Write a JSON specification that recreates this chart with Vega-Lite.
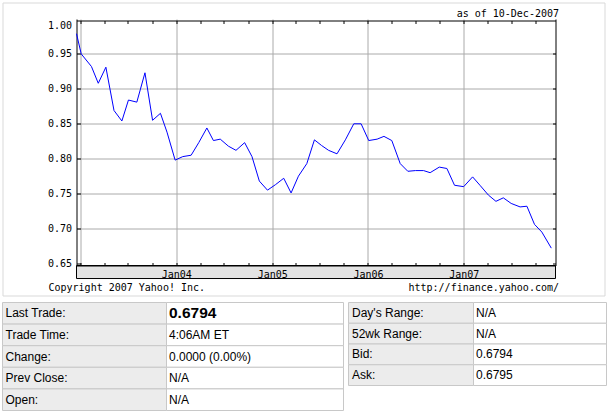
{
  "$schema": "https://vega.github.io/schema/vega-lite/v6.json",
  "background": "white",
  "padding": {"left": 1.5, "top": 1.5, "right": 2, "bottom": 2},
  "bounds": "flush",
  "spacing": 7,
  "datasets": {
    "series": [
      {"date": "2002-12-17", "value": 0.979},
      {"date": "2003-01-04", "value": 0.950},
      {"date": "2003-02-12", "value": 0.932},
      {"date": "2003-03-10", "value": 0.908},
      {"date": "2003-04-08", "value": 0.931},
      {"date": "2003-05-09", "value": 0.869},
      {"date": "2003-06-08", "value": 0.854},
      {"date": "2003-07-03", "value": 0.884},
      {"date": "2003-08-04", "value": 0.881},
      {"date": "2003-09-04", "value": 0.923},
      {"date": "2003-10-03", "value": 0.855},
      {"date": "2003-11-02", "value": 0.865},
      {"date": "2003-11-27", "value": 0.838},
      {"date": "2003-12-28", "value": 0.798},
      {"date": "2004-01-26", "value": 0.803},
      {"date": "2004-02-27", "value": 0.805},
      {"date": "2004-03-27", "value": 0.823},
      {"date": "2004-04-27", "value": 0.844},
      {"date": "2004-05-22", "value": 0.826},
      {"date": "2004-06-17", "value": 0.828},
      {"date": "2004-07-18", "value": 0.818},
      {"date": "2004-08-16", "value": 0.812},
      {"date": "2004-09-18", "value": 0.823},
      {"date": "2004-10-16", "value": 0.803},
      {"date": "2004-11-13", "value": 0.768},
      {"date": "2004-12-14", "value": 0.755},
      {"date": "2005-01-14", "value": 0.763},
      {"date": "2005-02-14", "value": 0.772},
      {"date": "2005-03-14", "value": 0.751},
      {"date": "2005-04-11", "value": 0.775},
      {"date": "2005-05-13", "value": 0.793},
      {"date": "2005-06-11", "value": 0.827},
      {"date": "2005-07-08", "value": 0.819},
      {"date": "2005-08-04", "value": 0.812},
      {"date": "2005-09-05", "value": 0.807},
      {"date": "2005-10-07", "value": 0.827},
      {"date": "2005-11-08", "value": 0.850},
      {"date": "2005-12-06", "value": 0.850},
      {"date": "2006-01-04", "value": 0.826},
      {"date": "2006-02-05", "value": 0.828},
      {"date": "2006-03-03", "value": 0.832},
      {"date": "2006-04-02", "value": 0.826},
      {"date": "2006-05-04", "value": 0.793},
      {"date": "2006-06-02", "value": 0.782},
      {"date": "2006-07-01", "value": 0.783},
      {"date": "2006-08-01", "value": 0.783},
      {"date": "2006-08-26", "value": 0.780},
      {"date": "2006-09-30", "value": 0.788},
      {"date": "2006-10-29", "value": 0.786},
      {"date": "2006-11-27", "value": 0.762},
      {"date": "2007-01-01", "value": 0.760},
      {"date": "2007-02-04", "value": 0.774},
      {"date": "2007-03-04", "value": 0.762},
      {"date": "2007-04-05", "value": 0.748},
      {"date": "2007-05-04", "value": 0.739},
      {"date": "2007-06-01", "value": 0.744},
      {"date": "2007-07-01", "value": 0.736},
      {"date": "2007-08-04", "value": 0.731},
      {"date": "2007-08-30", "value": 0.732},
      {"date": "2007-09-28", "value": 0.706},
      {"date": "2007-10-26", "value": 0.695},
      {"date": "2007-12-01", "value": 0.672}
    ],
    "left": [
      {"row": 1, "label": "Last Trade:", "value": "0.6794"},
      {"row": 2, "label": "Trade Time:", "value": "4:06AM ET"},
      {"row": 3, "label": "Change:", "value": "0.0000 (0.00%)"},
      {"row": 4, "label": "Prev Close:", "value": "N/A"},
      {"row": 5, "label": "Open:", "value": "N/A"}
    ],
    "right": [
      {"row": 1, "label": "Day's Range:", "value": "N/A"},
      {"row": 2, "label": "52wk Range:", "value": "N/A"},
      {"row": 3, "label": "Bid:", "value": "0.6794"},
      {"row": 4, "label": "Ask:", "value": "0.6795"}
    ]
  },
  "vconcat": [
    {
      "width": 602,
      "height": 293,
      "view": {"stroke": "#d9d9d9", "strokeWidth": 1},
      "resolve": {"axis": {"x": "independent", "y": "independent"}},
      "layer": [
        {
          "data": {"values": [{}]},
          "mark": {"type": "rect", "fill": "#e3e3e3", "stroke": "#000000", "strokeWidth": 1},
          "encoding": {
            "x": {
              "datum": {"year": 2002, "month": 12, "date": 17, "utc": true},
              "type": "temporal",
              "scale": {"type": "utc", "domain": [{"year": 2002, "month": 12, "date": 17, "utc": true}, {"year": 2007, "month": 12, "date": 17, "utc": true}], "range": [74, 553]},
              "axis": {
                "orient": "top", "offset": -18,
                "values": [
                  {"year": 2003, "month": 1, "date": 1, "utc": true}, {"year": 2003, "month": 4, "date": 1, "utc": true}, {"year": 2003, "month": 7, "date": 1, "utc": true}, {"year": 2003, "month": 10, "date": 1, "utc": true},
                  {"year": 2004, "month": 1, "date": 1, "utc": true}, {"year": 2004, "month": 4, "date": 1, "utc": true}, {"year": 2004, "month": 7, "date": 1, "utc": true}, {"year": 2004, "month": 10, "date": 1, "utc": true},
                  {"year": 2005, "month": 1, "date": 1, "utc": true}, {"year": 2005, "month": 4, "date": 1, "utc": true}, {"year": 2005, "month": 7, "date": 1, "utc": true}, {"year": 2005, "month": 10, "date": 1, "utc": true},
                  {"year": 2006, "month": 1, "date": 1, "utc": true}, {"year": 2006, "month": 4, "date": 1, "utc": true}, {"year": 2006, "month": 7, "date": 1, "utc": true}, {"year": 2006, "month": 10, "date": 1, "utc": true},
                  {"year": 2007, "month": 1, "date": 1, "utc": true}, {"year": 2007, "month": 4, "date": 1, "utc": true}, {"year": 2007, "month": 7, "date": 1, "utc": true}, {"year": 2007, "month": 10, "date": 1, "utc": true}
                ],
                "labels": false,
                "ticks": true, "tickSize": -3, "tickColor": "#000000", "tickWidth": 1,
                "domain": true, "domainColor": "#000000", "domainWidth": 1,
                "grid": true, "gridColor": "#aaaaaa", "gridWidth": 1,
                "gridOpacity": {"condition": {"test": "utcmonth(datum.value) === 0", "value": 1}, "value": 0},
                "title": "as of 10-Dec-2007",
                "titleX": 556, "titleY": -4, "titleAlign": "right", "titleBaseline": "alphabetic", "titleAngle": 0,
                "titleFont": "DejaVu Sans Mono", "titleFontSize": 10, "titleFontWeight": "normal", "titleColor": "#000000"
              }
            },
            "x2": {"datum": {"year": 2007, "month": 12, "date": 17, "utc": true}},
            "y": {
              "datum": 0.6285,
              "type": "quantitative",
              "scale": {"domain": [0.64714, 1.0], "range": [263, 16.5], "zero": false, "nice": false},
              "axis": {
                "orient": "right", "offset": -49,
                "values": [0.65, 0.7, 0.75, 0.8, 0.85, 0.9, 0.95],
                "labels": false,
                "ticks": true, "tickSize": -3, "tickColor": "#000000", "tickWidth": 1,
                "domain": true, "domainColor": "#000000", "domainWidth": 1,
                "grid": false,
                "title": "http://finance.yahoo.com/",
                "titleX": 3, "titleY": 288, "titleAlign": "right", "titleBaseline": "alphabetic", "titleAngle": 0,
                "titleFont": "DejaVu Sans Mono", "titleFontSize": 10, "titleFontWeight": "normal", "titleColor": "#000000"
              }
            },
            "y2": {"datum": 0.64714}
          }
        },
        {
          "data": {"name": "series"},
          "mark": {"type": "line", "color": "#0000ff", "strokeWidth": 1},
          "encoding": {
            "x": {
              "field": "date",
              "type": "temporal",
              "scale": {"type": "utc", "domain": [{"year": 2002, "month": 12, "date": 17, "utc": true}, {"year": 2007, "month": 12, "date": 17, "utc": true}], "range": [74, 553]},
              "axis": {
                "orient": "bottom", "offset": -30, "zindex": 1,
                "values": [
                  {"year": 2003, "month": 1, "date": 1, "utc": true}, {"year": 2003, "month": 4, "date": 1, "utc": true}, {"year": 2003, "month": 7, "date": 1, "utc": true}, {"year": 2003, "month": 10, "date": 1, "utc": true},
                  {"year": 2004, "month": 1, "date": 1, "utc": true}, {"year": 2004, "month": 4, "date": 1, "utc": true}, {"year": 2004, "month": 7, "date": 1, "utc": true}, {"year": 2004, "month": 10, "date": 1, "utc": true},
                  {"year": 2005, "month": 1, "date": 1, "utc": true}, {"year": 2005, "month": 4, "date": 1, "utc": true}, {"year": 2005, "month": 7, "date": 1, "utc": true}, {"year": 2005, "month": 10, "date": 1, "utc": true},
                  {"year": 2006, "month": 1, "date": 1, "utc": true}, {"year": 2006, "month": 4, "date": 1, "utc": true}, {"year": 2006, "month": 7, "date": 1, "utc": true}, {"year": 2006, "month": 10, "date": 1, "utc": true},
                  {"year": 2007, "month": 1, "date": 1, "utc": true}, {"year": 2007, "month": 4, "date": 1, "utc": true}, {"year": 2007, "month": 7, "date": 1, "utc": true}, {"year": 2007, "month": 10, "date": 1, "utc": true}
                ],
                "labelExpr": "utcmonth(datum.value) === 0 && utcyear(datum.value) > 2003 ? 'Jan' + utcFormat(datum.value, '%y') : ''",
                "labelFont": "DejaVu Sans Mono", "labelFontSize": 10, "labelColor": "#000000",
                "labelBaseline": "alphabetic", "labelAlign": "center", "labelPadding": 14.5,
                "labelOverlap": false, "labelFlush": false, "labelAngle": 0,
                "ticks": true, "tickSize": -3, "tickColor": "#000000", "tickWidth": 1,
                "domain": true, "domainColor": "#000000", "domainWidth": 1,
                "grid": false,
                "title": "Copyright 2007 Yahoo! Inc.",
                "titleX": 45.5, "titleY": 25, "titleAlign": "left", "titleBaseline": "alphabetic", "titleAngle": 0,
                "titleFont": "DejaVu Sans Mono", "titleFontSize": 10, "titleFontWeight": "normal", "titleColor": "#000000"
              }
            },
            "y": {
              "field": "value",
              "type": "quantitative",
              "scale": {"domain": [0.64714, 1.0], "range": [263, 16.5], "zero": false, "nice": false},
              "axis": {
                "orient": "left", "offset": -74,
                "values": [0.65, 0.7, 0.75, 0.8, 0.85, 0.9, 0.95, 1.0],
                "format": ".2f",
                "labelFont": "DejaVu Sans Mono", "labelFontSize": 10, "labelColor": "#000000",
                "labelPadding": 9, "labelFlush": false, "labelOverlap": false,
                "labelOffset": {"condition": {"test": "datum.value >= 0.999", "value": 6.5}, "value": 0},
                "ticks": true, "tickSize": -4, "tickColor": "#000000", "tickWidth": 1,
                "tickOpacity": {"condition": {"test": "datum.value >= 0.999", "value": 0}, "value": 1},
                "domain": true, "domainColor": "#000000", "domainWidth": 1,
                "grid": true, "gridColor": "#aaaaaa", "gridWidth": 1,
                "gridOpacity": {"condition": {"test": "datum.value >= 0.999 || datum.value <= 0.651", "value": 0}, "value": 1},
                "title": null
              }
            }
          }
        }
      ]
    },
    {
      "spacing": 3,
      "hconcat": [
        {
          "bounds": "flush",
          "spacing": 0,
          "hconcat": [
            {
              "data": {"name": "left"},
              "width": 164,
              "height": 108,
              "encoding": {"y": {"field": "row", "type": "ordinal", "axis": null, "scale": {"paddingInner": 0, "paddingOuter": 0}}},
              "layer": [
                {
                  "mark": {"type": "rect", "fill": "#ececec", "stroke": "#c8c8c8", "strokeWidth": 1},
                  "encoding": {"x": {"datum": "cell", "type": "nominal", "axis": null, "scale": {"paddingInner": 0, "paddingOuter": 0}}}
                },
                {
                  "mark": {"type": "text", "align": "left", "baseline": "middle", "dx": 3, "font": "Liberation Sans", "fontSize": 12, "color": "#000000"},
                  "encoding": {"x": {"datum": "cell", "type": "nominal", "axis": null, "bandPosition": 0}, "text": {"field": "label"}}
                }
              ]
            },
            {
              "data": {"name": "left"},
              "width": 177,
              "height": 108,
              "encoding": {"y": {"field": "row", "type": "ordinal", "axis": null, "scale": {"paddingInner": 0, "paddingOuter": 0}}},
              "layer": [
                {
                  "mark": {"type": "rect", "fill": "#ffffff", "stroke": "#c8c8c8", "strokeWidth": 1},
                  "encoding": {"x": {"datum": "cell", "type": "nominal", "axis": null, "scale": {"paddingInner": 0, "paddingOuter": 0}}}
                },
                {
                  "transform": [{"filter": "datum.row === 1"}],
                  "mark": {"type": "text", "align": "left", "baseline": "middle", "dx": 2.5, "font": "Liberation Sans", "fontSize": 15.5, "fontWeight": "bold", "color": "#000000"},
                  "encoding": {"x": {"datum": "cell", "type": "nominal", "axis": null, "bandPosition": 0}, "text": {"field": "value"}}
                },
                {
                  "transform": [{"filter": "datum.row !== 1"}],
                  "mark": {"type": "text", "align": "left", "baseline": "middle", "dx": 2.5, "font": "Liberation Sans", "fontSize": 12, "color": "#000000"},
                  "encoding": {"x": {"datum": "cell", "type": "nominal", "axis": null, "bandPosition": 0}, "text": {"field": "value"}}
                }
              ]
            }
          ]
        },
        {
          "bounds": "flush",
          "spacing": 0,
          "hconcat": [
            {
              "data": {"name": "right"},
              "width": 125,
              "height": 83,
              "encoding": {"y": {"field": "row", "type": "ordinal", "axis": null, "scale": {"paddingInner": 0, "paddingOuter": 0}}},
              "layer": [
                {
                  "mark": {"type": "rect", "fill": "#ececec", "stroke": "#c8c8c8", "strokeWidth": 1},
                  "encoding": {"x": {"datum": "cell", "type": "nominal", "axis": null, "scale": {"paddingInner": 0, "paddingOuter": 0}}}
                },
                {
                  "mark": {"type": "text", "align": "left", "baseline": "middle", "dx": 3.5, "font": "Liberation Sans", "fontSize": 12, "color": "#000000"},
                  "encoding": {"x": {"datum": "cell", "type": "nominal", "axis": null, "bandPosition": 0}, "text": {"field": "label"}}
                }
              ]
            },
            {
              "data": {"name": "right"},
              "width": 133,
              "height": 83,
              "encoding": {"y": {"field": "row", "type": "ordinal", "axis": null, "scale": {"paddingInner": 0, "paddingOuter": 0}}},
              "layer": [
                {
                  "mark": {"type": "rect", "fill": "#ffffff", "stroke": "#c8c8c8", "strokeWidth": 1},
                  "encoding": {"x": {"datum": "cell", "type": "nominal", "axis": null, "scale": {"paddingInner": 0, "paddingOuter": 0}}}
                },
                {
                  "mark": {"type": "text", "align": "left", "baseline": "middle", "dx": 2.5, "font": "Liberation Sans", "fontSize": 12, "color": "#000000"},
                  "encoding": {"x": {"datum": "cell", "type": "nominal", "axis": null, "bandPosition": 0}, "text": {"field": "value"}}
                }
              ]
            }
          ]
        }
      ]
    }
  ],
  "config": {
    "view": {"stroke": null},
    "axis": {"labelFont": "DejaVu Sans Mono", "titleFont": "DejaVu Sans Mono"}
  }
}
